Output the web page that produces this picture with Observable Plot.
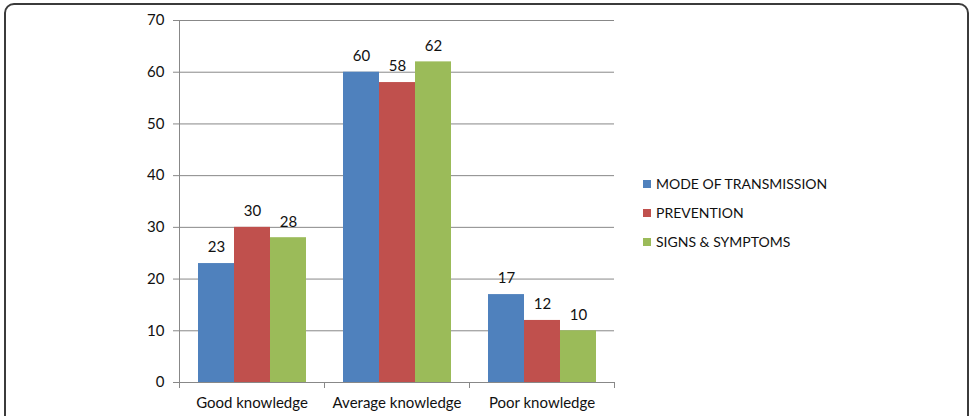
<!DOCTYPE html>
<html>
<head>
<meta charset="utf-8">
<script src="https://cdn.jsdelivr.net/npm/d3@7"></script>
<script src="https://cdn.jsdelivr.net/npm/@observablehq/plot@0.6"></script>
<style>
  html, body { margin: 0; padding: 0; background: #fff; }
  #wrap { position: relative; width: 971px; height: 416px; overflow: hidden; font-family: Lato, "Open Sans", sans-serif; }
  #border { position: absolute; left: 4px; top: 3px; width: 965px; height: 460px; border: 2px solid #3b3b3b; border-radius: 10px; box-sizing: border-box; }
  #chart { position: absolute; left: 0; top: 0; }
  #legend { position: absolute; left: 643px; top: 169px; font-size: 14px; color: #111; }
  #legend .row { display: flex; align-items: center; height: 29px; }
  #legend .sw { width: 8px; height: 8px; margin-right: 5px; }
</style>
</head>
<body>
<div id="wrap">
  <div id="border"></div>
  <div id="chart"></div>
  <div id="legend"></div>
</div>
<script>
const categories = ["Good knowledge", "Average knowledge", "Poor knowledge"];
const series = ["MODE OF TRANSMISSION", "PREVENTION", "SIGNS & SYMPTOMS"];
const modeValues = [23, 60, 17];
const preventionValues = [30, 58, 12];
const signsValues = [28, 62, 10];
const yTicks = [0, 10, 20, 30, 40, 50, 60, 70];
const colors = ["#4F81BD", "#C0504D", "#9BBB59"];

const seriesValues = [modeValues, preventionValues, signsValues];
const data = categories.flatMap((c, i) =>
  series.map((s, j) => ({category: c, series: s, value: seriesValues[j][i]}))
);

const W = 971, H = 416, mt = 20, mb = 34, ml = 178, mr = 356;
const innerH = H - mt - mb;
const gray = "#888888";

const chart = Plot.plot({
  width: W, height: H,
  marginTop: mt, marginBottom: mb, marginLeft: ml, marginRight: mr,
  style: {fontFamily: "Lato, 'Open Sans', sans-serif", fontSize: "15px", background: "transparent", color: "#111", overflow: "visible"},
  fx: {domain: categories, padding: 0, label: null, axis: null},
  x: {domain: series, paddingInner: 0, paddingOuter: 0.5, axis: null},
  y: {domain: [0, 70], axis: null},
  color: {domain: series, range: colors},
  marks: [
    Plot.gridY(yTicks, {stroke: gray, strokeOpacity: 1}),
    Plot.barY(data, {fx: "category", x: "series", y: "value", fill: "series"}),
    Plot.text(data, {fx: "category", x: "series", y: "value", text: d => String(d.value), dy: -16, fill: "#111", fontSize: 15}),
    Plot.ruleY([0], {stroke: gray}),
    Plot.axisY(yTicks, {tickSize: 6, tickPadding: 9, stroke: gray, fill: "#111", label: null}),
    Plot.frame({anchor: "left", facetAnchor: "left", stroke: gray, insetBottom: -5}),
    Plot.frame({anchor: "right", stroke: gray, insetTop: innerH, insetBottom: -5}),
    Plot.axisFx({anchor: "bottom", tickSize: 0, tickPadding: 15, label: null, fill: "#111"})
  ]
});
document.getElementById("chart").appendChild(chart);

const legend = document.getElementById("legend");
series.forEach((s, i) => {
  const row = document.createElement("div");
  row.className = "row";
  const sw = document.createElement("div");
  sw.className = "sw";
  sw.style.background = colors[i];
  const label = document.createElement("span");
  label.textContent = s;
  row.appendChild(sw);
  row.appendChild(label);
  legend.appendChild(row);
});
</script>
</body>
</html>
